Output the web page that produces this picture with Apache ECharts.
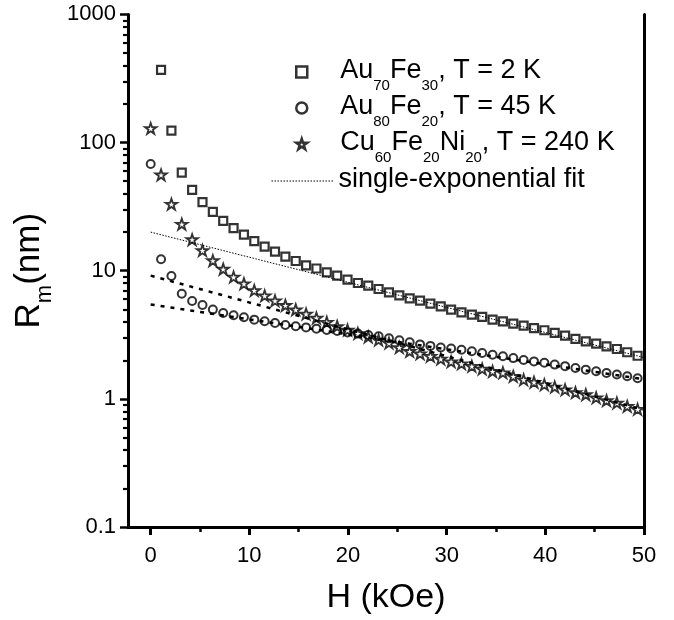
<!DOCTYPE html>
<html><head><meta charset="utf-8">
<script src="https://cdn.jsdelivr.net/npm/echarts@6/dist/echarts.min.js"></script>
<style>html,body{margin:0;padding:0;background:#fff}#c{width:674px;height:620px}</style>
</head><body><div id="c"></div>
<script>
// Field values H (kOe) at which the points were measured
const H = [0, 1.05, 2.1, 3.15, 4.2, 5.25, 6.3, 7.35, 8.4, 9.45, 10.5, 11.55, 12.6, 13.65, 14.7, 15.75,
  16.8, 17.85, 18.9, 19.95, 21.0, 22.05, 23.1, 24.15, 25.2, 26.25, 27.3, 28.35, 29.4, 30.45, 31.5,
  32.55, 33.6, 34.65, 35.7, 36.75, 37.8, 38.85, 39.9, 40.95, 42.0, 43.05, 44.1, 45.15, 46.2, 47.25,
  48.3, 49.35];
// Au70Fe30, T = 2 K (starts at the second field value)
const squareR = [369, 124, 58.3, 42.8, 34.3, 28.8, 24.5, 21.5, 19.1, 17.0, 15.4, 14.1, 12.9, 11.9,
  11.0, 10.4, 9.7, 9.14, 8.51, 8.02, 7.64, 7.20, 6.77, 6.42, 6.08, 5.84, 5.53, 5.27, 4.97, 4.73,
  4.54, 4.36, 4.15, 4.03, 3.86, 3.73, 3.57, 3.43, 3.27, 3.11, 2.94, 2.81, 2.70, 2.57, 2.45, 2.31, 2.17];
// Au80Fe20, T = 45 K
const circleR = [68, 12.3, 9.1, 6.6, 5.8, 5.4, 4.97, 4.68, 4.49, 4.33, 4.15, 4.03, 3.91, 3.77, 3.69,
  3.61, 3.53, 3.45, 3.38, 3.30, 3.23, 3.15, 3.08, 2.97, 2.86, 2.76, 2.66, 2.59, 2.52, 2.47, 2.42,
  2.35, 2.28, 2.21, 2.15, 2.08, 2.01, 1.96, 1.91, 1.85, 1.80, 1.74, 1.69, 1.64, 1.59, 1.55, 1.50, 1.45];
// Cu60Fe20Ni20, T = 240 K
const starR = [129, 56, 33.1, 23.1, 17.5, 14.4, 12.0, 10.3, 8.93, 7.93, 7.02, 6.38, 5.83, 5.37, 4.97,
  4.60, 4.28, 3.96, 3.68, 3.45, 3.24, 3.04, 2.88, 2.73, 2.52, 2.35, 2.25, 2.15, 2.05, 1.95, 1.88,
  1.80, 1.71, 1.64, 1.60, 1.50, 1.41, 1.35, 1.29, 1.24, 1.18, 1.12, 1.08, 1.02, 0.97, 0.93, 0.875, 0.83];
// single-exponential fits (end points)
const fitH = [0, 50];
const fitSquare = [20, 2.1];
const fitCircle = [5.45, 1.42];
const fitStar = [9.15, 0.82];
// ticks
const xTicks = [0, 10, 20, 30, 40, 50];
const xMinor = [5, 15, 25, 35, 45];
const yTicks = [0.1, 1, 10, 100, 1000];
const yMinor = [0.2, 0.3, 0.4, 0.5, 0.6, 0.7, 0.8, 0.9, 2, 3, 4, 5, 6, 7, 8, 9,
  20, 30, 40, 50, 60, 70, 80, 90, 200, 300, 400, 500, 600, 700, 800, 900];
const names = ['Au70Fe30, T = 2 K', 'Au80Fe20, T = 45 K', 'Cu60Fe20Ni20, T = 240 K', 'single-exponential fit'];
const richNames = {
  'Au70Fe30, T = 2 K': '{sp|}{n|Au}{s|70}{n|Fe}{s|30}{n|, T = 2 K}',
  'Au80Fe20, T = 45 K': '{sp|}{n|Au}{s|80}{n|Fe}{s|20}{n|, T = 45 K}',
  'Cu60Fe20Ni20, T = 240 K': '{sp|}{n|Cu}{s|60}{n|Fe}{s|20}{n|Ni}{s|20}{n|, T = 240 K}',
  'single-exponential fit': '{n|single-exponential fit}'
};

const FONT = 'Liberation Sans, Arial, Helvetica, sans-serif';
const STAR = 'path://M50,0 L61.2,34.5 L97.6,34.5 L68.2,55.9 L79.4,90.5 L50,69.1 L20.6,90.5 L31.8,55.9 L2.4,34.5 L38.8,34.5 Z';
const pairs = (xs, ys, off) => ys.map((v, i) => [xs[i + off], v]);

const legendRich = {
  sp: { width: 28, height: 1 },
  n: { fontSize: 27, fontFamily: FONT, color: '#000', lineHeight: 30, verticalAlign: 'top' },
  s: { fontSize: 15, fontFamily: FONT, color: '#000', lineHeight: 15, verticalAlign: 'top', padding: [21, 0, 0, 0] }
};

const chart = echarts.init(document.getElementById('c'), null, { renderer: 'canvas' });
chart.setOption({
  animation: false,
  backgroundColor: '#fff',
  grid: { left: 128, right: 30, top: 14.4, bottom: 92.4, containLabel: false },
  legend: [
    {
      data: [
        { name: names[0], icon: 'rect', itemStyle: { color: 'rgba(0,0,0,0)', borderColor: '#000', borderWidth: 2.5 } },
        { name: names[1], icon: 'circle', itemStyle: { color: 'rgba(0,0,0,0)', borderColor: '#000', borderWidth: 2.5 } },
        { name: names[2], icon: STAR, itemStyle: { color: 'rgba(0,0,0,0)', borderColor: '#000', borderWidth: 2.5 } }
      ],
      orient: 'vertical', left: 295, top: 57, padding: 0, itemGap: 0,
      itemWidth: 11, itemHeight: 11, selectedMode: false,
      formatter: n => richNames[n],
      textStyle: { rich: legendRich }
    },
    {
      data: [{ name: names[3], itemStyle: { opacity: 0 },
        lineStyle: { color: '#000', width: 1, type: [1.5, 1.5] } }],
      orient: 'vertical', left: 271, top: 166, padding: 0,
      itemWidth: 62, itemHeight: 12, selectedMode: false,
      formatter: n => richNames[n],
      textStyle: { rich: legendRich }
    }
  ],
  xAxis: [
    {
      type: 'value', min: -2.3, max: 50, position: 'bottom', offset: 0,
      axisLine: { show: true, onZero: false, lineStyle: { color: '#000', width: 3 } },
      axisTick: { show: true, customValues: xTicks, length: 8, lineStyle: { color: '#000', width: 3 } },
      axisLabel: { customValues: xTicks, fontSize: 22, color: '#000', margin: 18, fontFamily: FONT },
      splitLine: { show: false },
      name: 'H (kOe)', nameLocation: 'middle', nameGap: 54,
      nameTextStyle: { fontSize: 34, color: '#000', fontFamily: FONT }
    },
    {
      type: 'value', min: -2.3, max: 50, position: 'bottom', offset: 0,
      axisLine: { show: false, onZero: false },
      axisTick: { show: true, customValues: xMinor, length: 5, lineStyle: { color: '#000', width: 2.5 } },
      axisLabel: { show: false }, splitLine: { show: false }
    }
  ],
  yAxis: [
    {
      type: 'log', logBase: 10, min: 0.1, max: 1000, position: 'left', offset: 0,
      axisLine: { show: true, onZero: false, lineStyle: { color: '#000', width: 3 } },
      axisTick: { show: true, customValues: yTicks, length: 8, lineStyle: { color: '#000', width: 2.5 } },
      axisLabel: { customValues: yTicks, fontSize: 22, color: '#000', margin: 12, fontFamily: FONT,
        formatter: v => String(v) },
      splitLine: { show: false },
      name: '{r|R}{m|m}{r|(nm)}', nameLocation: 'middle', nameGap: 72, nameRotate: 90,
      nameTextStyle: {
        rich: {
          r: { fontSize: 35, fontFamily: FONT, color: '#000', lineHeight: 38, verticalAlign: 'top' },
          m: { fontSize: 22, fontFamily: FONT, color: '#000', lineHeight: 22, verticalAlign: 'top', padding: [22, 0, 0, 0] }
        }
      }
    },
    {
      type: 'log', logBase: 10, min: 0.1, max: 1000, position: 'left', offset: 0,
      axisLine: { show: false, onZero: false },
      axisTick: { show: true, customValues: yMinor, length: 5, lineStyle: { color: '#000', width: 2.2 } },
      axisLabel: { show: false }, splitLine: { show: false }
    },
    {
      type: 'log', logBase: 10, min: 0.1, max: 1000, position: 'right', offset: 0,
      axisLine: { show: true, onZero: false, lineStyle: { color: '#000', width: 3 } },
      axisTick: { show: false }, axisLabel: { show: false }, splitLine: { show: false }
    }
  ],
  series: [
    { name: names[3], type: 'line', symbol: 'none', silent: true, z: 1,
      data: pairs(fitH, fitSquare, 0),
      lineStyle: { color: '#000', width: 1, type: [1.5, 1.5] } },
    { name: 'fit-circle', type: 'line', symbol: 'none', silent: true, z: 1,
      data: pairs(fitH, fitCircle, 0),
      lineStyle: { color: '#000', width: 2.5, type: [4, 6] } },
    { name: 'fit-star', type: 'line', symbol: 'none', silent: true, z: 1,
      data: pairs(fitH, fitStar, 0),
      lineStyle: { color: '#000', width: 2.5, type: [4, 6] } },
    { name: names[0], type: 'scatter', symbol: 'rect', symbolSize: 8, silent: true, z: 3,
      data: pairs(H, squareR, 1),
      itemStyle: { color: 'rgba(0,0,0,0)', borderColor: '#000', borderWidth: 2.2 } },
    { name: names[1], type: 'scatter', symbol: 'circle', symbolSize: 8, silent: true, z: 3,
      data: pairs(H, circleR, 0),
      itemStyle: { color: 'rgba(0,0,0,0)', borderColor: '#000', borderWidth: 2 } },
    { name: names[2], type: 'scatter', symbol: STAR, symbolSize: 11.5, symbolKeepAspect: true, silent: true, z: 3,
      data: pairs(H, starR, 0),
      itemStyle: { color: 'rgba(0,0,0,0)', borderColor: '#000', borderWidth: 1.8 } }
  ]
});
</script>
</body></html>
